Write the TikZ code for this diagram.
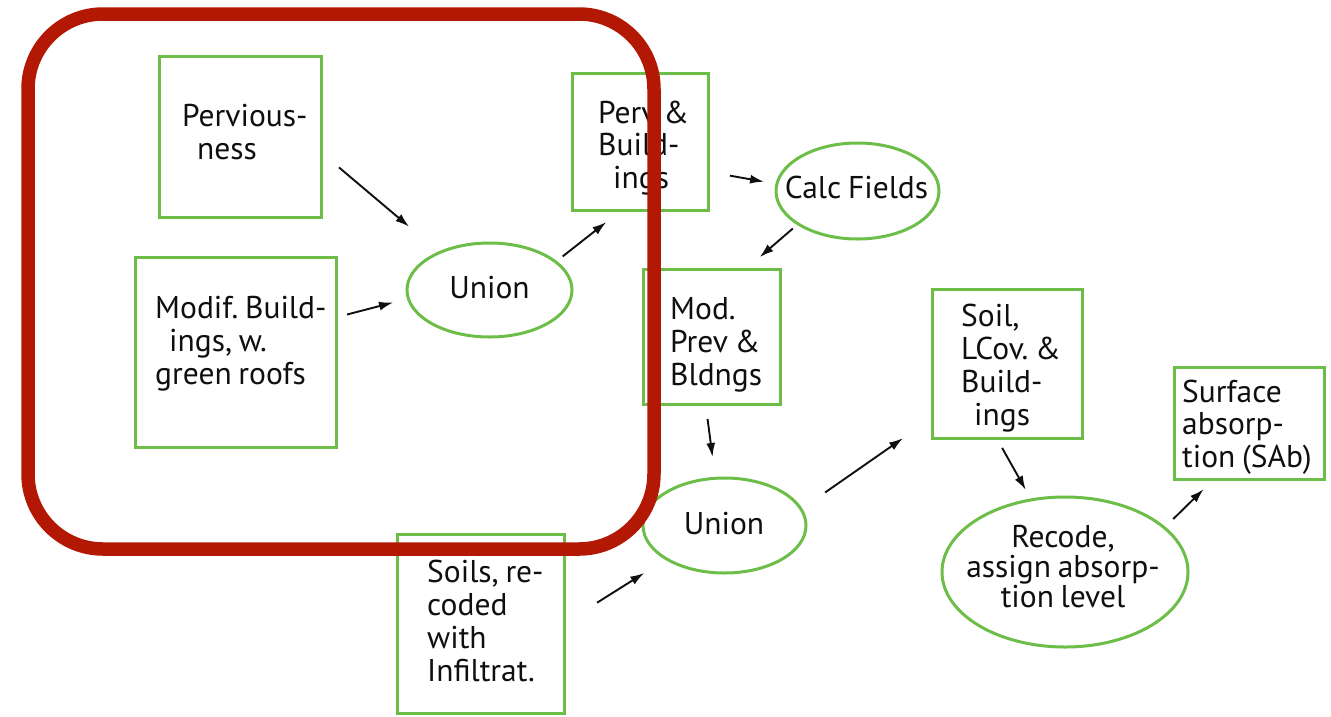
\documentclass[tikz,border=0pt]{standalone}
\usepackage{fontspec}
\setmainfont[WordSpace=0.8]{PT Sans}
\frenchspacing
\usetikzlibrary{shapes.geometric,arrows.meta}
\definecolor{grn}{RGB}{108,190,72}
\definecolor{hl}{RGB}{178,24,4}
\definecolor{ink}{RGB}{15,15,15}
\tikzset{
  box/.style={draw=grn, line width=3pt, rectangle, inner sep=0pt, outer sep=0pt},
  oval/.style={draw=grn, line width=3pt, ellipse, inner sep=0pt, outer sep=0pt},
  txt/.style={font=\fontsize{31.5}{33}\selectfont\frenchspacing, text=ink, align=left, anchor=base west, inner sep=0pt},
  ctxt/.style={font=\fontsize{31.5}{30}\selectfont\frenchspacing, text=ink, align=center, anchor=base, inner sep=0pt},
  arr/.style={-{Latex[length=14pt,width=9pt]}, line width=1.9pt, draw=ink},
  frame/.style={draw=hl, line width=13.5pt, rounded corners=75pt}
}
\begin{document}
\begin{tikzpicture}[x=1pt,y=-1pt]
\useasboundingbox (0,0) rectangle (1331,716);
% boxes
\node[box, minimum width=162, minimum height=161] (perv) at (240,136.5) {};
\node[box, minimum width=201, minimum height=190] (modif) at (235.5,352) {};
\node[oval, minimum width=165, minimum height=94] (union1) at (489.5,290) {};
\node[box, minimum width=136, minimum height=137] (pb) at (640,141.5) {};
\node[oval, minimum width=163, minimum height=96] (calc) at (857.5,191) {};
\node[box, minimum width=137, minimum height=135] (mod) at (711.5,336.5) {};
\node[oval, minimum width=163, minimum height=95] (union2) at (724.5,525.5) {};
\node[box, minimum width=167, minimum height=179] (soils) at (480.5,623.5) {};
\node[box, minimum width=150, minimum height=149] (soill) at (1007,363.5) {};
\node[oval, minimum width=246, minimum height=150] (recode) at (1065,572) {};
\node[box, minimum width=150, minimum height=112] (surf) at (1249,423) {};
% texts (anchor = baseline of the last line)
\node[txt] (pervT) at (182,159) {Pervious-\\\hspace*{15pt}ness};
\node[txt] (modifT) at (155,384) {Modif. Build-\\\hspace*{14pt}ings, w.\\green roofs};
\node[ctxt] (union1T) at (489.5,298) {Union};
\node[txt, font=\fontsize{31.5}{32.5}\selectfont\frenchspacing] (pbT) at (598,188) {Perv \&\\Build-\\\hspace*{15pt}ings};
\node[ctxt] (calcT) at (856.5,198) {Calc Fields};
\node[txt] (modT) at (670,385) {Mod.\\Prev \&\\Bldngs};
\node[ctxt] (union2T) at (724,534) {Union};
\node[txt] (soilsT) at (427,681) {Soils, re-\\coded\\with\\Infiltrat.};
\node[txt, font=\fontsize{31.5}{32.7}\selectfont\frenchspacing] (soillT) at (961,425) {Soil,\\LCov. \&\\Build-\\\hspace*{13pt}ings};
\node[txt, font=\fontsize{31.5}{32.5}\selectfont\frenchspacing] (surfT) at (1182,467) {Surface\\absorp-\\tion (SAb)};
\node[ctxt] (recodeT) at (1063,607) {Recode,\\assign absorp-\\tion level};
% arrows
\draw[arr, shorten <=23.5pt, shorten >=40pt] (perv.-11.5) -- (union1.143.3);
\draw[arr, shorten <=11.4pt, shorten >=15.8pt] (modif.19.3) -- (union1.-174.4);
\draw[arr, shorten <=8.9pt, shorten >=19.6pt] (union1.23.6) -- (pb.-105.1);
\draw[arr, shorten <=22.3pt, shorten >=13pt] (pb.-24.2) -- (calc.175.3);
\draw[arr, shorten <=7pt, shorten >=18.2pt] (calc.-151.7) -- (mod.63.4);
\draw[arr, shorten <=15.1pt, shorten >=21.5pt] (mod.-95.5) -- (union2.101.6);
\draw[arr, shorten <=39.1pt, shorten >=26.4pt] (soils.0) -- (union2.-150.2);
\draw[arr, shorten <=29.3pt, shorten >=35.3pt] (union2.12.4) -- (soill.-144);
\draw[arr, shorten <=11.4pt, shorten >=11.5pt] (soill.-98) -- (recode.115.6);
\draw[arr, shorten <=12.5pt, shorten >=14.6pt] (recode.24.9) -- (surf.-122.2);
% highlight frame
\draw[frame] (28,14) rectangle (654,549);
\end{tikzpicture}
\end{document}
